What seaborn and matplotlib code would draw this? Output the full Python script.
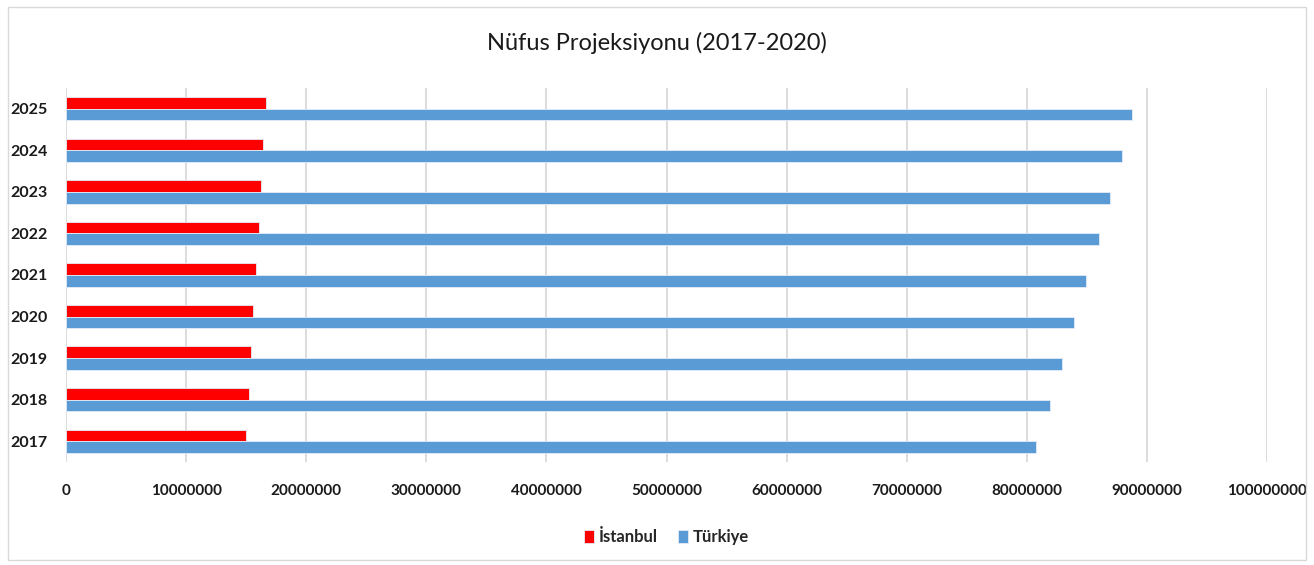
import pandas as pd
import seaborn as sns
import matplotlib.pyplot as plt
from matplotlib.patches import Rectangle

years = ['2025', '2024', '2023', '2022', '2021', '2020', '2019', '2018', '2017']
istanbul = [16650000, 16430000, 16240000, 16030000, 15820000, 15610000, 15410000, 15200000, 14950000]
turkiye = [88800000, 87900000, 86900000, 86000000, 84900000, 83900000, 82900000, 81900000, 80800000]
series = ['İstanbul', 'Türkiye']
x_ticks = list(range(0, 100000001, 10000000))

df = pd.DataFrame({
    'year': years * 2,
    'value': istanbul + turkiye,
    'series': [series[0]] * len(years) + [series[1]] * len(years),
})

sns.set_style('white')
plt.rcParams['font.family'] = ['Lato', 'DejaVu Sans']

fig = plt.figure(figsize=(13.14, 5.65), dpi=100)
ax = fig.add_axes([66 / 1314, 1 - 462 / 565, (1267 - 66) / 1314, (462 - 88) / 565])

sns.barplot(data=df, y='year', x='value', hue='series', order=years, hue_order=series,
            palette={'İstanbul': '#FF0000', 'Türkiye': '#5B9BD5'}, width=0.56, saturation=1,
            edgecolor='#E3ECF7', linewidth=0.6, ax=ax, orient='h', legend=True)

ax.set_xlim(0, 100000000)
ax.set_xticks(x_ticks)
ax.set_xticklabels([str(t) for t in x_ticks], fontsize=11, fontweight='bold', color='#1a1a1a')
ax.set_yticklabels(years, fontsize=11.5, fontweight='bold', color='#1a1a1a')
ax.grid(axis='x', color='#D9D9D9', linewidth=1.3)
ax.set_axisbelow(True)
for s in ax.spines.values():
    s.set_visible(False)
ax.tick_params(axis='x', length=0, pad=16)
ax.tick_params(axis='y', length=0, pad=13)
ax.set_xlabel('')
ax.set_ylabel('')

handles, labels = ax.get_legend_handles_labels()
ax.legend(handles, labels, loc='upper center', bbox_to_anchor=(0.5, -0.14), ncol=2,
          frameon=False, handlelength=0.6, handleheight=0.8, handletextpad=0.3,
          columnspacing=1.2, prop={'size': 12, 'weight': 'bold'})

fig.text(0.5, 1 - 43 / 565, 'Nüfus Projeksiyonu (2017-2020)', ha='center', va='center',
         fontsize=17, color='#1a1a1a')

fig.patches.append(Rectangle((8 / 1314, 5 / 565), 1298 / 1314, 553 / 565,
                             transform=fig.transFigure, fill=False,
                             edgecolor='#D9D9D9', linewidth=1))

fig.savefig('out.png', dpi=100)
